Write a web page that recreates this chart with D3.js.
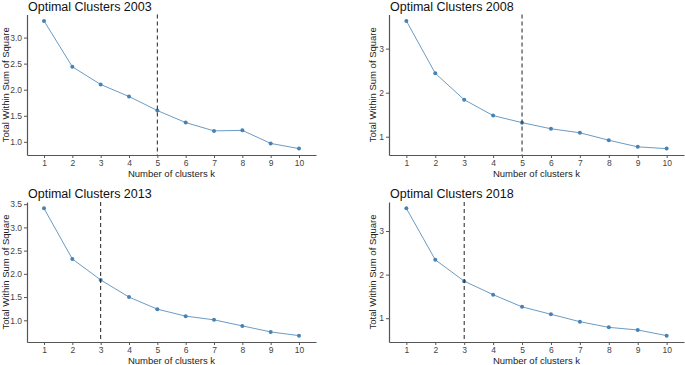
<!DOCTYPE html>
<html>
<head>
<meta charset="utf-8">
<script src="https://cdn.jsdelivr.net/npm/d3@7"></script>
<style>
  body { margin: 0; background: #fff; }
  svg { display: block; font-family: "Liberation Sans", Arial, sans-serif; }
</style>
</head>
<body>
<div id="chart"></div>
<script>
//////////////////////////////////////////////////////////////////////////////
// Data

var ks = [1, 2, 3, 4, 5, 6, 7, 8, 9, 10];

var wss2003 = [3.32, 2.44, 2.10, 1.87, 1.60, 1.37, 1.21, 1.22, 0.97, 0.87];
var wss2008 = [3.63, 2.44, 1.84, 1.48, 1.32, 1.18, 1.09, 0.92, 0.77, 0.73];
var wss2013 = [3.41, 2.32, 1.87, 1.50, 1.24, 1.09, 1.01, 0.88, 0.75, 0.67];
var wss2018 = [3.52, 2.34, 1.85, 1.54, 1.26, 1.09, 0.92, 0.79, 0.73, 0.60];

var titles = ["Optimal Clusters 2003", "Optimal Clusters 2008",
              "Optimal Clusters 2013", "Optimal Clusters 2018"];
var optimalK = [5, 5, 3, 3];

var ticks2003 = [1.0, 1.5, 2.0, 2.5, 3.0];
var ticks2008 = [1, 2, 3];
var ticks2013 = [1.0, 1.5, 2.0, 2.5, 3.0, 3.5];
var ticks2018 = [1, 2, 3];

//////////////////////////////////////////////////////////////////////////////
// Layout

var width = 685, height = 365;
var lineColor = "steelblue";

var panels = [
    { title: titles[0], values: wss2003, ticks: ticks2003, fmt: ".1f", k: optimalK[0],
      x0: 27,  x1: 316, y0: 14.5, y1: 155 },
    { title: titles[1], values: wss2008, ticks: ticks2008, fmt: "d",   k: optimalK[1],
      x0: 389, x1: 684, y0: 14.5, y1: 155 },
    { title: titles[2], values: wss2013, ticks: ticks2013, fmt: ".1f", k: optimalK[2],
      x0: 27,  x1: 316, y0: 202, y1: 342 },
    { title: titles[3], values: wss2018, ticks: ticks2018, fmt: "d",   k: optimalK[3],
      x0: 389, x1: 684, y0: 202, y1: 342 }
];

var svg = d3.select("#chart")
    .append("svg")
    .attr("width", width)
    .attr("height", height);

function drawPanel(p)
{
    var data = ks.map(function(k, i) { return { k: k, v: p.values[i] }; });

    // ggplot-like expansion: discrete x (+0.6), continuous y (5%)
    var xScale = d3.scaleLinear().domain([0.4, 10.6]).range([p.x0, p.x1]);
    var ext = d3.extent(p.values);
    var pad = (ext[1] - ext[0]) * 0.05;
    var yScale = d3.scaleLinear().domain([ext[0] - pad, ext[1] + pad]).range([p.y1, p.y0]);

    var g = svg.append("g");

    // line + points
    g.append("path")
        .datum(data)
        .attr("fill", "none")
        .attr("stroke", lineColor)
        .attr("stroke-opacity", 0.8)
        .attr("stroke-width", 1)
        .attr("d", d3.line()
            .x(function(d) { return xScale(d.k); })
            .y(function(d) { return yScale(d.v); }));

    g.append("g")
        .selectAll("circle")
        .data(data)
        .enter()
        .append("circle")
        .attr("cx", function(d) { return xScale(d.k); })
        .attr("cy", function(d) { return yScale(d.v); })
        .attr("r", 2)
        .attr("fill", lineColor);

    // dashed optimal k line
    g.append("line")
        .attr("x1", xScale(p.k)).attr("x2", xScale(p.k))
        .attr("y1", p.y0).attr("y2", p.y1)
        .attr("stroke", "#222")
        .attr("stroke-width", 1)
        .attr("stroke-dasharray", "4,3");

    // axes
    var xAxis = g.append("g")
        .attr("transform", "translate(0," + p.y1 + ")")
        .call(d3.axisBottom(xScale).tickValues(ks).tickSize(3).tickSizeOuter(0).tickPadding(2));

    var yAxis = g.append("g")
        .attr("transform", "translate(" + p.x0 + ",0)")
        .call(d3.axisLeft(yScale).tickValues(p.ticks).tickFormat(d3.format(p.fmt))
            .tickSize(3).tickSizeOuter(0).tickPadding(2));

    [xAxis, yAxis].forEach(function(a) {
        a.select(".domain").attr("stroke", "#555").attr("stroke-width", 1.2);
        a.selectAll(".tick line").attr("stroke", "#555");
        a.selectAll(".tick text")
            .attr("fill", "#444")
            .style("font-size", "8.5px")
            .style("font-family", "'Liberation Sans', Arial, sans-serif");
    });

    // titles
    g.append("text")
        .attr("x", p.x0 + 1)
        .attr("y", p.y0 - 4)
        .attr("font-size", "12.5px")
        .attr("fill", "#111")
        .text(p.title);

    g.append("text")
        .attr("x", (p.x0 + p.x1) / 2)
        .attr("y", p.y1 + 22)
        .attr("text-anchor", "middle")
        .attr("font-size", "9.5px")
        .attr("fill", "#222")
        .text("Number of clusters k");

    var labelX = p.x0 - (p.fmt === "d" ? 13 : 18);
    g.append("text")
        .attr("transform", "translate(" + labelX + "," + ((p.y0 + p.y1) / 2) + ") rotate(-90)")
        .attr("text-anchor", "middle")
        .attr("font-size", "9.5px")
        .attr("fill", "#222")
        .text("Total Within Sum of Square");
}

panels.forEach(drawPanel);
</script>
</body>
</html>
